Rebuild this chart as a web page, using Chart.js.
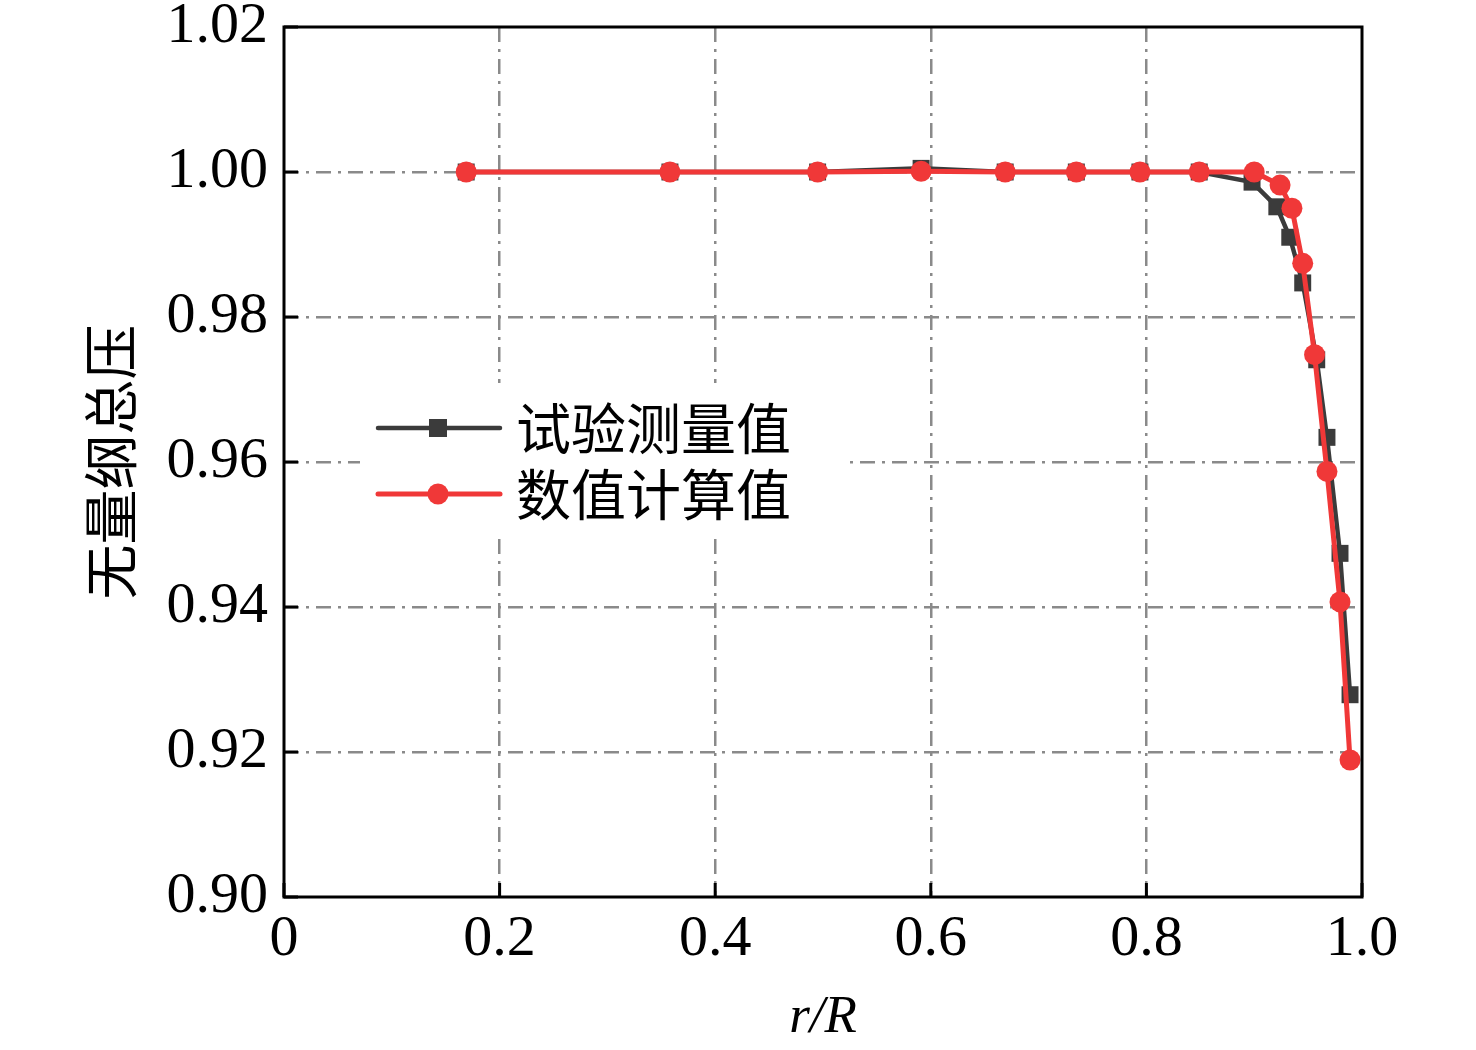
<!DOCTYPE html>
<html>
<head>
<meta charset="utf-8">
<script src="https://cdn.jsdelivr.net/npm/chart.js@4/dist/chart.umd.min.js"></script>
<style>
  html, body { margin: 0; padding: 0; background: #fff; }
  #wrap { width: 1476px; height: 1050px; }
</style>
</head>
<body>
<div id="wrap"><canvas id="pressureChart" width="1476" height="1050"></canvas></div>
<script>
// tick labels and series names
const xTickLabels = ['0', '0.2', '0.4', '0.6', '0.8', '1.0'];
const yTickLabels = ['0.90', '0.92', '0.94', '0.96', '0.98', '1.00', '1.02'];
const seriesNames = ['试验测量值', '数值计算值'];

// 试验测量值 (black squares)
const testR = [0.169, 0.358, 0.495, 0.591, 0.669, 0.735, 0.794, 0.849, 0.898, 0.921, 0.933, 0.945, 0.958, 0.9675, 0.9796, 0.9889];
const testP = [1.000, 1.000, 1.000, 1.0005, 1.000, 1.000, 1.000, 1.000, 0.9986, 0.9952, 0.9910, 0.9847, 0.9741, 0.9634, 0.9474, 0.9279];

// 数值计算值 (red circles)
const calcR = [0.169, 0.358, 0.495, 0.591, 0.669, 0.735, 0.794, 0.849, 0.900, 0.924, 0.935, 0.945, 0.956, 0.9675, 0.9796, 0.9889];
const calcP = [1.000, 1.000, 1.000, 1.0001, 1.000, 1.000, 1.000, 1.000, 1.000, 0.9982, 0.9950, 0.9874, 0.9748, 0.9587, 0.9407, 0.9189];

const BLACK = '#3b3b3b';
const RED = '#f03838';
const GRID = '#8a8a8a';

function toPoints(xs, ys) {
    return xs.map((x, i) => ({ x: x, y: ys[i] }));
}

// white box behind the legend, drawn over the grid
const legendBgPlugin = {
    id: 'legendBg',
    beforeDatasetsDraw(chart) {
        const ctx = chart.ctx;
        ctx.save();
        ctx.fillStyle = '#fff';
        ctx.fillRect(360, 383, 490, 152);
        ctx.restore();
    }
};

// frame + inward ticks
const framePlugin = {
    id: 'frame',
    afterDatasetsDraw(chart) {
        const { ctx, chartArea: a, scales } = chart;
        ctx.save();
        ctx.strokeStyle = '#000';
        ctx.lineWidth = 3;
        ctx.beginPath();
        scales.x.ticks.forEach(t => {
            const px = scales.x.getPixelForValue(t.value);
            ctx.moveTo(px, a.bottom);
            ctx.lineTo(px, a.bottom - 14);
        });
        scales.y.ticks.forEach(t => {
            const py = scales.y.getPixelForValue(t.value);
            ctx.moveTo(a.left, py);
            ctx.lineTo(a.left + 14, py);
        });
        ctx.stroke();
        ctx.strokeRect(a.left, a.top, a.right - a.left, a.bottom - a.top);
        ctx.restore();
    }
};

// legend inside the plot
const legendPlugin = {
    id: 'innerLegend',
    afterDraw(chart) {
        const ctx = chart.ctx;
        const rows = [
            { y: 428, color: BLACK, shape: 'rect', width: 4.5 },
            { y: 494, color: RED, shape: 'circle', width: 5 }
        ];
        ctx.save();
        rows.forEach((row, i) => {
            ctx.strokeStyle = row.color;
            ctx.fillStyle = row.color;
            ctx.lineWidth = row.width;
            ctx.lineCap = 'round';
            ctx.beginPath();
            ctx.moveTo(378, row.y);
            ctx.lineTo(500, row.y);
            ctx.stroke();
            if (row.shape === 'rect') {
                ctx.fillRect(429, row.y - 9, 18, 18);
            } else {
                ctx.beginPath();
                ctx.arc(438, row.y, 10.5, 0, Math.PI * 2);
                ctx.fill();
            }
            ctx.fillStyle = '#000';
            ctx.font = '55px "Noto Sans CJK SC"';
            ctx.textBaseline = 'middle';
            ctx.textAlign = 'left';
            ctx.fillText(seriesNames[i], 516, row.y);
        });
        ctx.restore();
    }
};

const ctx = document.getElementById('pressureChart').getContext('2d');
new Chart(ctx, {
    type: 'scatter',
    data: {
        datasets: [{
            label: seriesNames[0],
            data: toPoints(testR, testP),
            showLine: true,
            borderColor: BLACK,
            backgroundColor: BLACK,
            borderWidth: 4.5,
            pointStyle: 'rect',
            pointRadius: 12,
            pointBorderWidth: 0,
            order: 2
        }, {
            label: seriesNames[1],
            data: toPoints(calcR, calcP),
            showLine: true,
            borderColor: RED,
            backgroundColor: RED,
            borderWidth: 5,
            pointStyle: 'circle',
            pointRadius: 10.5,
            pointBorderWidth: 0,
            order: 1
        }]
    },
    options: {
        responsive: false,
        animation: false,
        devicePixelRatio: 1,
        layout: { padding: { left: 77, right: 114, top: 27, bottom: 0 } },
        plugins: {
            legend: { display: false },
            tooltip: { enabled: false }
        },
        scales: {
            x: {
                type: 'linear',
                min: 0,
                max: 1,
                ticks: {
                    stepSize: 0.2,
                    autoSkip: false,
                    maxRotation: 0,
                    padding: 14,
                    color: '#000',
                    font: { family: 'Liberation Serif', size: 58, lineHeight: 1 },
                    callback: (v, i) => xTickLabels[i] !== undefined ? xTickLabels[i] : v
                },
                grid: {
                    drawTicks: false,
                    lineWidth: 2.5,
                    color: c => (c.tick && (c.index === 0 || c.index === xTickLabels.length - 1)) ? 'rgba(0,0,0,0)' : GRID
                },
                border: { display: false, dash: [15, 7, 3, 7] },
                title: {
                    display: true,
                    text: 'r/R',
                    color: '#000',
                    font: { family: 'Liberation Serif', size: 53, style: 'italic' },
                    padding: { top: 0, bottom: 0 }
                },
                afterFit: s => { s.height = 153; s.paddingLeft = 0; s.paddingRight = 0; }
            },
            y: {
                type: 'linear',
                min: 0.9,
                max: 1.02,
                ticks: {
                    stepSize: 0.02,
                    padding: 16,
                    color: '#000',
                    font: { family: 'Liberation Serif', size: 58, lineHeight: 1 },
                    callback: (v, i) => yTickLabels[i] !== undefined ? yTickLabels[i] : v
                },
                grid: {
                    drawTicks: false,
                    lineWidth: 2.5,
                    color: c => (c.tick && (c.index === 0 || c.index === yTickLabels.length - 1)) ? 'rgba(0,0,0,0)' : GRID
                },
                border: { display: false, dash: [15, 7, 3, 7] },
                title: {
                    display: true,
                    text: '无量纲总压',
                    color: '#000',
                    font: { family: 'Noto Sans CJK SC', size: 55 },
                    padding: { top: 0, bottom: 0 }
                },
                afterFit: s => { s.width = 207; s.paddingTop = 0; s.paddingBottom = 0; }
            }
        }
    },
    plugins: [legendBgPlugin, framePlugin, legendPlugin]
});
</script>
</body>
</html>
